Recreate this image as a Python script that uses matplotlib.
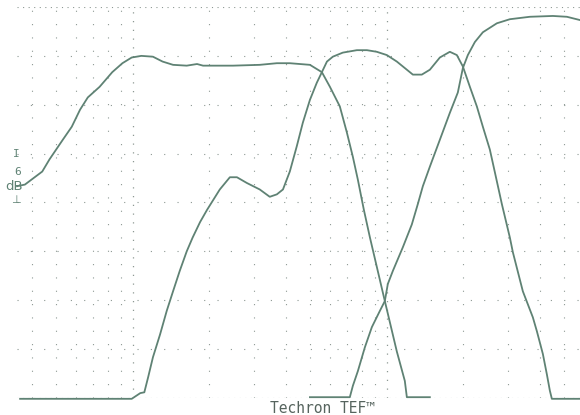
import matplotlib
matplotlib.use("Agg")
import matplotlib.pyplot as plt

# frequency (Hz) / level (dB), 6 dB per division
low_f = [35, 37.6, 44, 47, 53, 57.5, 62, 66.5, 74, 83, 91, 99, 108, 120, 131, 144, 163, 179, 189, 248,
         316, 369, 415, 498, 555, 597, 653, 696, 735, 769, 812, 858, 982, 1095, 1177, 1199, 1477]
low_db = [-22.0, -21.8, -20.2, -18.7, -16.3, -14.7, -12.6, -11.1, -9.8, -8.0, -6.9, -6.2, -6.0, -6.1, -6.7,
          -7.1, -7.2, -7.0, -7.2, -7.2, -7.1, -6.9, -6.9, -7.1, -8.0, -9.8, -12.2, -15.4, -18.4, -21.2,
          -24.9, -28.3, -36.1, -42.3, -45.9, -47.9, -47.9]

mid_f = [36, 99, 107, 111, 115, 120, 128, 136, 144, 153, 163, 172, 184, 196, 220, 241, 257, 281, 316, 346,
         369, 390, 415, 442, 467, 498, 530, 555, 581, 613, 671, 762, 835, 913, 1000, 1095, 1199, 1266, 1373, 1477,
         1617, 1770, 1886, 1992, 2123, 2261, 2388, 2544, 2663, 2837, 3050, 3134, 3431, 3757, 3896, 4114, 4266,
         4383, 4463, 5753]
mid_db = [-48.1, -48.1, -47.4, -47.3, -45.4, -43.0, -40.2, -37.3, -34.9, -32.4, -30.0, -28.3, -26.4, -24.9,
          -22.4, -20.9, -20.9, -21.6, -22.4, -23.3, -23.0, -22.4, -20.2, -17.1, -14.2, -11.4, -9.3, -8.0, -6.7,
          -6.1, -5.6, -5.3, -5.3, -5.5, -5.9, -6.7, -7.7, -8.3, -8.3, -7.7, -6.2, -5.5, -5.9, -7.3, -9.8, -12.2,
          -14.7, -17.5, -20.3, -24.2, -28.3, -30.1, -34.9, -38.1, -39.8, -42.6, -45.1, -47.1, -48.1, -48.1]

high_f = [498, 715, 735, 769, 819, 873, 939, 982, 1009, 1056, 1156, 1254, 1324, 1386, 1477, 1617, 1770,
          1903, 1992, 2084, 2221, 2388, 2711, 3050, 3656, 4503, 5113, 5753]
high_db = [-47.9, -47.9, -46.5, -44.7, -41.8, -39.3, -37.3, -36.1, -34.0, -32.4, -29.5, -26.7, -24.2, -22.0,
           -19.6, -16.3, -13.0, -10.5, -7.5, -5.9, -4.3, -3.1, -2.0, -1.5, -1.2, -1.1, -1.2, -1.6]

grid_db = [-6, -12, -18, -24, -30, -36, -42]
edge_db = [0, -48]
grid_f = [40, 50, 60, 70, 80, 90, 200, 300, 400, 500, 600, 700, 800, 900, 2000, 3000, 4000, 5000]
decade_f = [100, 1000]

ink = "#5f8274"
dots = "#8d9893"

fig = plt.figure(figsize=(5.8, 4.15), dpi=100)
ax = fig.add_axes([17 / 580, 1 - 398 / 415, 1 - 17 / 580, (398 - 7) / 415])
ax.set_xscale("log")
ax.set_xlim(35, 5760)
ax.set_ylim(-48, 0)

for d in grid_db:
    ax.axhline(d, color=dots, lw=0.8, ls=(0, (1, 11)), zorder=1)
for d in edge_db:
    ax.axhline(d, color=dots, lw=0.8, ls=(0, (1, 4)), zorder=1)
for f in grid_f:
    ax.axvline(f, color=dots, lw=0.8, ls=(0, (1, 11)), zorder=1)
for f in decade_f:
    ax.axvline(f, color=dots, lw=0.9, ls=(0, (1, 6)), zorder=1)

for fx, db in [(low_f, low_db), (mid_f, mid_db), (high_f, high_db)]:
    ax.plot(fx, db, color=ink, lw=1.3, clip_on=False, zorder=3)

ax.axis("off")

# 6 dB scale marker at left
fig.text(0.028, 1 - 154 / 415, "I", color=ink, fontsize=8, ha="center", va="center",
         family="DejaVu Sans Mono")
fig.text(0.03, 1 - 172 / 415, "6", color=ink, fontsize=8, ha="center", va="center",
         family="DejaVu Sans Mono")
fig.text(0.024, 1 - 186 / 415, "dB", color=ink, fontsize=9.5, ha="center", va="center")
fig.text(0.028, 1 - 200 / 415, "\u22a5", color=ink, fontsize=8, ha="center", va="center",
         family="DejaVu Sans")

fig.text(322 / 580, 1 - 408 / 415, "Techron TEF\u2122", color="#56645e", fontsize=10.5,
         ha="center", va="center", family="DejaVu Sans Mono")

fig.savefig("out.png", dpi=100, facecolor="white")
